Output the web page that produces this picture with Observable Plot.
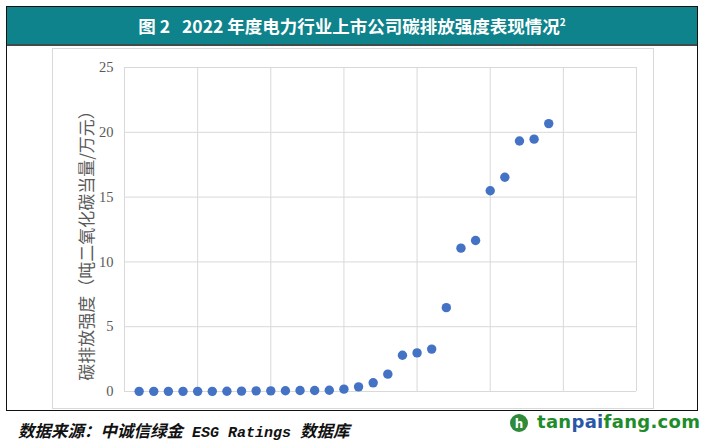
<!DOCTYPE html>
<html>
<head>
<meta charset="utf-8">
<script src="https://cdn.jsdelivr.net/npm/d3@7"></script>
<script src="https://cdn.jsdelivr.net/npm/@observablehq/plot@0.6"></script>
<style>
  html, body { margin: 0; padding: 0; background: #fff; }
  #root { position: relative; width: 707px; height: 443px; background: #fff; overflow: hidden; }
  #frame { position: absolute; left: 6px; top: 6px; width: 692px; height: 405px; box-sizing: border-box; border: 1.5px solid #111; }
  #titlebar { position: absolute; left: 7px; top: 7px; width: 690px; height: 39px; box-sizing: border-box; background: #0e838b; border-bottom: 2px solid #3e4c4c;
    color: #fff; font-family: "Noto Sans CJK SC", sans-serif; font-weight: bold; font-size: 17.5px; line-height: 37px; text-align: center; letter-spacing: 0px; }
  #titlebar sup { font-size: 10px; vertical-align: 0; position: relative; top: -7px; }
  #chartbox { position: absolute; left: 52px; top: 48px; width: 602px; height: 361px; box-sizing: border-box; border: 1px solid #d9d9d9; }
  #chart { position: absolute; left: 52px; top: 48px; }
  #source { position: absolute; left: 18px; top: 418px; font-family: "Noto Sans CJK SC", sans-serif; font-weight: bold; font-style: italic; font-size: 16.5px; color: #111; white-space: nowrap; }
  #source .lat { font-family: "Liberation Mono", monospace; font-size: 15px; }
  #logo { position: absolute; left: 509px; top: 412px; height: 22px; white-space: nowrap; }
  #logo .txt { position: absolute; left: 28px; top: -1px; font-family: "DejaVu Sans", sans-serif; font-weight: bold; font-size: 18px; color: #1e8c2a; letter-spacing: 0.3px; }
  #logo .txt .b { color: #2a56a8; }
</style>
</head>
<body>
<div id="root">
  <div id="frame"></div>
  <div id="titlebar">图 2&nbsp;&nbsp;&nbsp;2022 年度电力行业上市公司碳排放强度表现情况<sup>2</sup></div>
  <div id="chartbox"></div>
  <div id="chart"></div>
  <div id="source">数据来源：中诚信绿金<span class="lat"> ESG Ratings </span>数据库</div>
  <div id="logo">
    <svg width="22" height="22" style="position:absolute;left:0;top:1px">
      <circle cx="10" cy="10" r="9" fill="#2f8a3a"/>
      <text x="10" y="15" text-anchor="middle" fill="#fff" font-family="DejaVu Sans" font-weight="bold" font-size="12">h</text>
    </svg>
    <span class="txt">tan<span class="b">pai</span>fang.com</span>
  </div>
</div>
<script>
// Company rank (sorted) and carbon emission intensity (t CO2e / 10k yuan)
const ranks = [1,2,3,4,5,6,7,8,9,10,11,12,13,14,15,16,17,18,19,20,21,22,23,24,25,26,27,28,29];
const intensity = [0.01,0.01,0.01,0.01,0.01,0.01,0.02,0.03,0.05,0.05,0.06,0.08,0.08,0.1,0.18,0.36,0.67,1.34,2.8,2.98,3.27,6.47,11.06,11.65,15.49,16.53,19.33,19.47,20.67];
const yTicks = [0,5,10,15,20,25];
const xGrid = [0,5,10,15,20,25,30,35];
const yTitle = "碳排放强度（吨二氧化碳当量/万元）";

const data = ranks.map((r, i) => ({rank: r, value: intensity[i]}));

const chart = Plot.plot({
  width: 602,
  height: 361,
  marginLeft: 72,
  marginRight: 18,
  marginTop: 19,
  marginBottom: 18,
  style: {background: "transparent", color: "#595959", fontFamily: "Liberation Serif, serif", fontSize: "14.5px", overflow: "visible"},
  x: {domain: [0, 35], axis: null},
  y: {domain: [0, 25], axis: null},
  marks: [
    Plot.gridX(xGrid, {stroke: "#d9d9d9", strokeOpacity: 1}),
    Plot.gridY(yTicks, {stroke: "#d9d9d9", strokeOpacity: 1}),
    Plot.axisY(yTicks, {tickSize: 0, tickPadding: 11, label: null, fontSize: 14.5}),
    Plot.dot(data, {x: "rank", y: "value", r: 4.7, fill: "#4472c4", stroke: "none"}),
    Plot.text([yTitle], {frameAnchor: "left", textAnchor: "middle", lineAnchor: "middle", rotate: -90, dx: -37, dy: 12, fontSize: 17, fill: "#5a5a5a", fontFamily: "Noto Sans CJK SC, sans-serif"})
  ]
});
document.getElementById("chart").appendChild(chart);
</script>
</body>
</html>
